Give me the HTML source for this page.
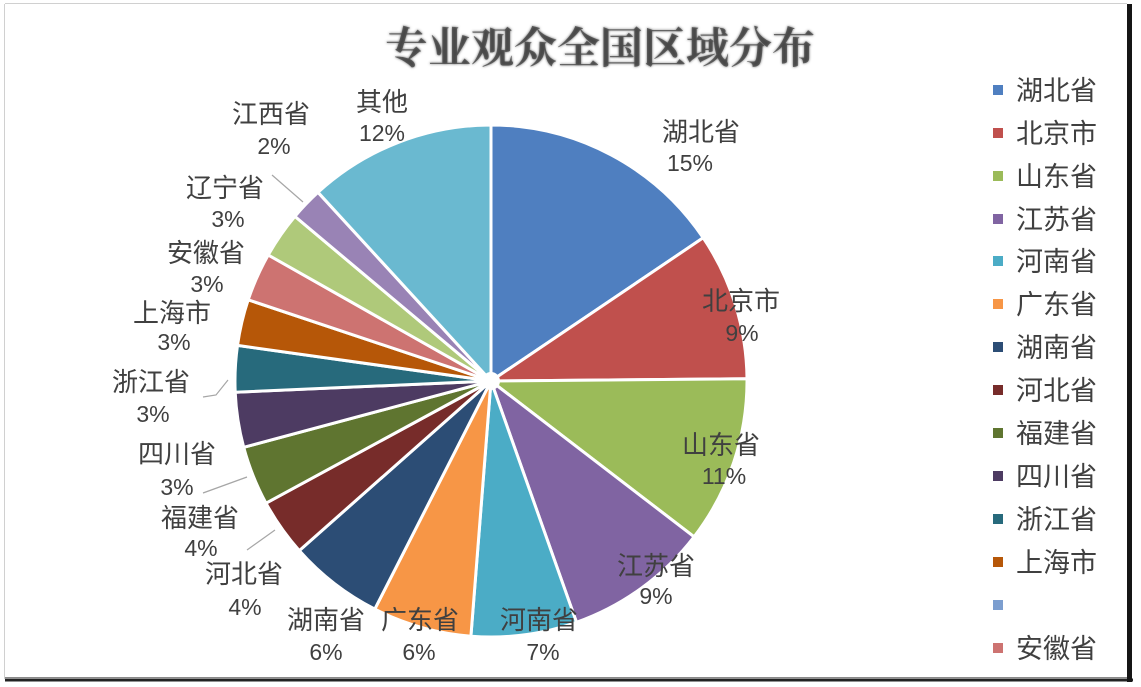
<!DOCTYPE html>
<html>
<head>
<meta charset="utf-8">
<style>
  html,body{margin:0;padding:0;background:#fff;}
  body{width:1141px;height:687px;overflow:hidden;}
  svg{display:block;}
  .lb{font-family:"Liberation Sans","Noto Sans CJK SC",sans-serif;fill:#404040;text-anchor:middle;}
  .nm{font-size:26px;}
  .pc{font-size:23px;}
  .lg{font-family:"Liberation Sans","Noto Sans CJK SC",sans-serif;fill:#404040;font-size:27px;}
</style>
</head>
<body>
<svg width="1141" height="687" viewBox="0 0 1141 687" xmlns="http://www.w3.org/2000/svg">
  <defs>
    <filter id="blur" x="-5%" y="-20%" width="110%" height="140%">
      <feGaussianBlur stdDeviation="1.2"/>
    </filter>
  </defs>
  <rect x="0" y="0" width="1141" height="687" fill="#fff"/>
  <!-- frame -->
  <line x1="5" y1="3.5" x2="1127" y2="3.5" stroke="#d0d0d0" stroke-width="1"/>
  <line x1="4.5" y1="4" x2="4.5" y2="679" stroke="#d0d0d0" stroke-width="1"/>
  <line x1="5" y1="677.5" x2="1128" y2="677.5" stroke="#8a8a8a" stroke-width="1"/>
  <rect x="5" y="678.5" width="1128" height="3" fill="#222"/>
  <rect x="1127" y="4" width="5" height="678" fill="#151515"/>

  <!-- title -->
  <text x="600" y="63" font-family="'Liberation Serif','Noto Serif CJK SC',serif" font-size="43" font-weight="bold" fill="#666" text-anchor="middle" filter="url(#blur)">专业观众全国区域分布</text>
  <text x="600" y="63" font-family="'Liberation Serif','Noto Serif CJK SC',serif" font-size="43" font-weight="bold" fill="#3a3a3a" text-anchor="middle" opacity="0.7">专业观众全国区域分布</text>

  <!-- pie -->
  <g stroke="#fff" stroke-width="3" stroke-linejoin="round">
    <path d="M491,381 L491,125 A256,256 0 0 1 703.2,237.8 Z" fill="#4f7fc0"/>
    <path d="M491,381 L703.2,237.8 A256,256 0 0 1 747.0,378.8 Z" fill="#c0504d"/>
    <path d="M491,381 L747.0,378.8 A256,256 0 0 1 694.1,536.8 Z" fill="#9bbb59"/>
    <path d="M491,381 L694.1,536.8 A256,256 0 0 1 576.5,622.3 Z" fill="#8064a2"/>
    <path d="M491,381 L576.5,622.3 A256,256 0 0 1 470.9,636.2 Z" fill="#4bacc6"/>
    <path d="M491,381 L470.9,636.2 A256,256 0 0 1 374.8,609.1 Z" fill="#f79646"/>
    <path d="M491,381 L374.8,609.1 A256,256 0 0 1 299.3,550.6 Z" fill="#2c4d75"/>
    <path d="M491,381 L299.3,550.6 A256,256 0 0 1 266.0,503.2 Z" fill="#772c2a"/>
    <path d="M491,381 L266.0,503.2 A256,256 0 0 1 243.7,447.3 Z" fill="#5f7530"/>
    <path d="M491,381 L243.7,447.3 A256,256 0 0 1 235.2,392.2 Z" fill="#4d3b62"/>
    <path d="M491,381 L235.2,392.2 A256,256 0 0 1 237.5,345.4 Z" fill="#276a7c"/>
    <path d="M491,381 L237.5,345.4 A256,256 0 0 1 248.2,299.8 Z" fill="#b65708"/>
    <path d="M491,381 L248.2,299.8 A256,256 0 0 1 268.2,255.0 Z" fill="#cd7371"/>
    <path d="M491,381 L268.2,255.0 A256,256 0 0 1 294.9,216.4 Z" fill="#afc97a"/>
    <path d="M491,381 L294.9,216.4 A256,256 0 0 1 318.0,192.3 Z" fill="#9983b5"/>
    <path d="M491,381 L318.0,192.3 A256,256 0 0 1 491,125 Z" fill="#6ab9d0"/>
  </g>
  <circle cx="491" cy="381" r="9" fill="#fff"/>

  <!-- leader lines -->
  <g stroke="#a6a6a6" stroke-width="1.2" fill="none">
    <polyline points="272,175 303,202"/>
    <polyline points="203,397 216,395 228,380"/>
    <polyline points="203,493 247,477"/>
    <polyline points="247,550 275,530"/>
  </g>

  <!-- data labels -->
  <g class="lb">
    <text class="nm" x="701" y="141">湖北省</text><text class="pc" x="690" y="171">15%</text>
    <text class="nm" x="741" y="310">北京市</text><text class="pc" x="742" y="341">9%</text>
    <text class="nm" x="721" y="454">山东省</text><text class="pc" x="724" y="484">11%</text>
    <text class="nm" x="656" y="575">江苏省</text><text class="pc" x="656" y="604">9%</text>
    <text class="nm" x="539" y="629">河南省</text><text class="pc" x="543" y="660">7%</text>
    <text class="nm" x="420" y="629">广东省</text><text class="pc" x="419" y="660">6%</text>
    <text class="nm" x="326" y="629">湖南省</text><text class="pc" x="326" y="660">6%</text>
    <text class="nm" x="244" y="583">河北省</text><text class="pc" x="245" y="615">4%</text>
    <text class="nm" x="200" y="527">福建省</text><text class="pc" x="201" y="556">4%</text>
    <text class="nm" x="177" y="463">四川省</text><text class="pc" x="177" y="495">3%</text>
    <text class="nm" x="151" y="391">浙江省</text><text class="pc" x="153" y="422">3%</text>
    <text class="nm" x="172" y="322">上海市</text><text class="pc" x="174" y="350">3%</text>
    <text class="nm" x="206" y="262">安徽省</text><text class="pc" x="207" y="292">3%</text>
    <text class="nm" x="225" y="197">辽宁省</text><text class="pc" x="228" y="227">3%</text>
    <text class="nm" x="271" y="123">江西省</text><text class="pc" x="274" y="154">2%</text>
    <text class="nm" x="382" y="111">其他</text><text class="pc" x="382" y="141">12%</text>
  </g>

  <!-- legend -->
  <g>
    <rect x="993" y="85" width="10" height="10" fill="#4f7fc0"/>
    <rect x="993" y="128" width="10" height="10" fill="#c0504d"/>
    <rect x="993" y="171" width="10" height="10" fill="#9bbb59"/>
    <rect x="993" y="214" width="10" height="10" fill="#8064a2"/>
    <rect x="993" y="256" width="10" height="10" fill="#4bacc6"/>
    <rect x="993" y="299" width="10" height="10" fill="#f79646"/>
    <rect x="993" y="342" width="10" height="10" fill="#2c4d75"/>
    <rect x="993" y="385" width="10" height="10" fill="#772c2a"/>
    <rect x="993" y="428" width="10" height="10" fill="#5f7530"/>
    <rect x="993" y="471" width="10" height="10" fill="#4d3b62"/>
    <rect x="993" y="514" width="10" height="10" fill="#276a7c"/>
    <rect x="993" y="557" width="10" height="10" fill="#b65708"/>
    <rect x="993" y="600" width="10" height="10" fill="#7c9ecf"/>
    <rect x="993" y="643" width="10" height="10" fill="#cd7371"/>
  </g>
  <g class="lg">
    <text x="1016" y="100">湖北省</text>
    <text x="1016" y="143">北京市</text>
    <text x="1016" y="186">山东省</text>
    <text x="1016" y="229">江苏省</text>
    <text x="1016" y="271">河南省</text>
    <text x="1016" y="314">广东省</text>
    <text x="1016" y="357">湖南省</text>
    <text x="1016" y="400">河北省</text>
    <text x="1016" y="443">福建省</text>
    <text x="1016" y="486">四川省</text>
    <text x="1016" y="529">浙江省</text>
    <text x="1016" y="572">上海市</text>
    <text x="1016" y="658">安徽省</text>
  </g>
</svg>
</body>
</html>
